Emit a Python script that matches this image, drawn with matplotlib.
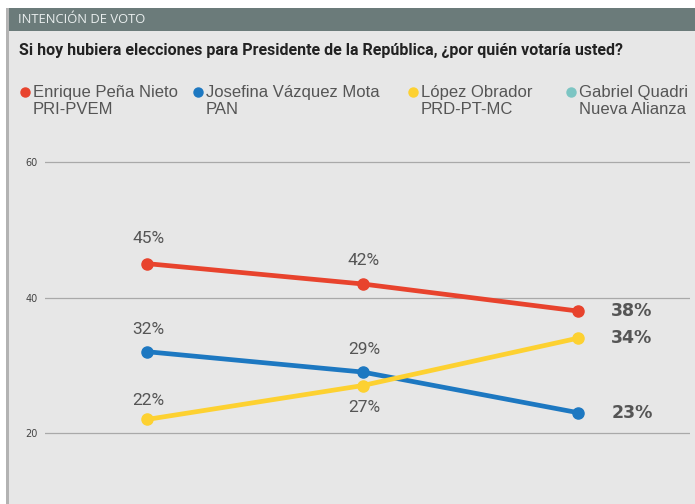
import matplotlib
matplotlib.use("Agg")
import matplotlib.pyplot as plt
from matplotlib.patches import Rectangle
from matplotlib.lines import Line2D

# data
periods = [0, 1, 2]
pena_nieto = [45, 42, 38]
vazquez_mota = [32, 29, 23]
lopez_obrador = [22, 27, 34]
candidates = ["Enrique Peña Nieto", "Josefina Vázquez Mota", "López Obrador", "Gabriel Quadri"]
parties = ["PRI-PVEM", "PAN", "PRD-PT-MC", "Nueva Alianza"]
y_ticks = [20, 40, 60]

RED = "#e8432d"
BLUE = "#1d78c1"
YELLOW = "#fdd131"
TEAL = "#7cc5c3"
BG = "#e7e7e7"
TXT = "#555555"

W, H = 695, 504
fig = plt.figure(figsize=(W / 100, H / 100), dpi=100)
fig.patch.set_facecolor("white")

def fx(px):
    return px / W

def fy(py):
    return 1 - py / H

# panel background, left rule, header bar
fig.add_artist(Rectangle((fx(7), 0), 1 - fx(7), fy(8), transform=fig.transFigure,
                         facecolor=BG, edgecolor="none", zorder=0))
fig.add_artist(Rectangle((fx(6), 0), fx(3), fy(8), transform=fig.transFigure,
                         facecolor="#b3b3b3", edgecolor="none", zorder=1))
fig.add_artist(Rectangle((fx(9), fy(31)), 1 - fx(9), fy(8) - fy(31), transform=fig.transFigure,
                         facecolor="#6b7b7a", edgecolor="none", zorder=1))
fig.text(fx(18), fy(19.5), "INTENCIÓN DE VOTO", color="#e9eeee", fontsize=9.4,
         va="center", ha="left", family="Open Sans")
fig.text(fx(19), fy(51), "Si hoy hubiera elecciones para Presidente de la República, ¿por quién votaría usted?",
         color="#222222", fontsize=11.5, fontweight="bold", va="center", ha="left",
         family="Roboto")

# legend
leg_x = [25, 198, 413, 571]
leg_colors = [RED, BLUE, YELLOW, TEAL]
for x0, name, party, c in zip(leg_x, candidates, parties, leg_colors):
    fig.add_artist(Line2D([fx(x0)], [fy(92)], marker="o", markersize=6.5, color=c,
                          linestyle="none", transform=fig.transFigure))
    fig.text(fx(x0 + 8), fy(92), name, color=TXT, fontsize=12, va="center", ha="left",
             family="Liberation Sans")
    fig.text(fx(x0 + 8), fy(109), party, color=TXT, fontsize=12, va="center", ha="left",
             family="Liberation Sans")

# plot area: y 62 -> px 148.45, y 14 -> px 473.65
ax = fig.add_axes([fx(45), fy(473.65), fx(690) - fx(45), fy(148.45) - fy(473.65)])
ax.set_facecolor("none")
ax.set_xlim((45 - 147) / 215.5, (690 - 147) / 215.5)
ax.set_ylim(14, 62)
for s in ax.spines.values():
    s.set_visible(False)
ax.set_yticks(y_ticks)
ax.set_yticklabels([str(v) for v in y_ticks])
ax.set_xticks([])
ax.tick_params(axis="y", length=0, pad=5, labelsize=7, labelcolor="#444444")
ax.grid(axis="y", color="#a9a9a9", linewidth=0.9)
ax.set_axisbelow(True)

series = [(pena_nieto, RED), (vazquez_mota, BLUE), (lopez_obrador, YELLOW)]
for vals, c in series:
    ax.plot(periods, vals, color=c, linewidth=3.4, marker="o", markersize=8, zorder=3,
            solid_capstyle="round")

# point labels (first two points)
label_offsets = {
    "pena": [18, 17],
    "vazquez": [16, 16],
    "lopez": [14, -16],
}
for vals, key in [(pena_nieto, "pena"), (vazquez_mota, "vazquez"), (lopez_obrador, "lopez")]:
    for i in range(2):
        ax.annotate(f"{vals[i]}%", (periods[i], vals[i]), xytext=(1, label_offsets[key][i]),
                    textcoords="offset points", ha="center", va="center", fontsize=12.5,
                    color=TXT, family="Roboto")
    ax.annotate(f"{vals[-1]}%", (periods[-1], vals[-1]), xytext=(24, 0),
                textcoords="offset points", ha="left", va="center", fontsize=12.5,
                fontweight="bold", color=TXT, family="DejaVu Sans")

fig.savefig("out.png", dpi=100, facecolor=fig.get_facecolor())
